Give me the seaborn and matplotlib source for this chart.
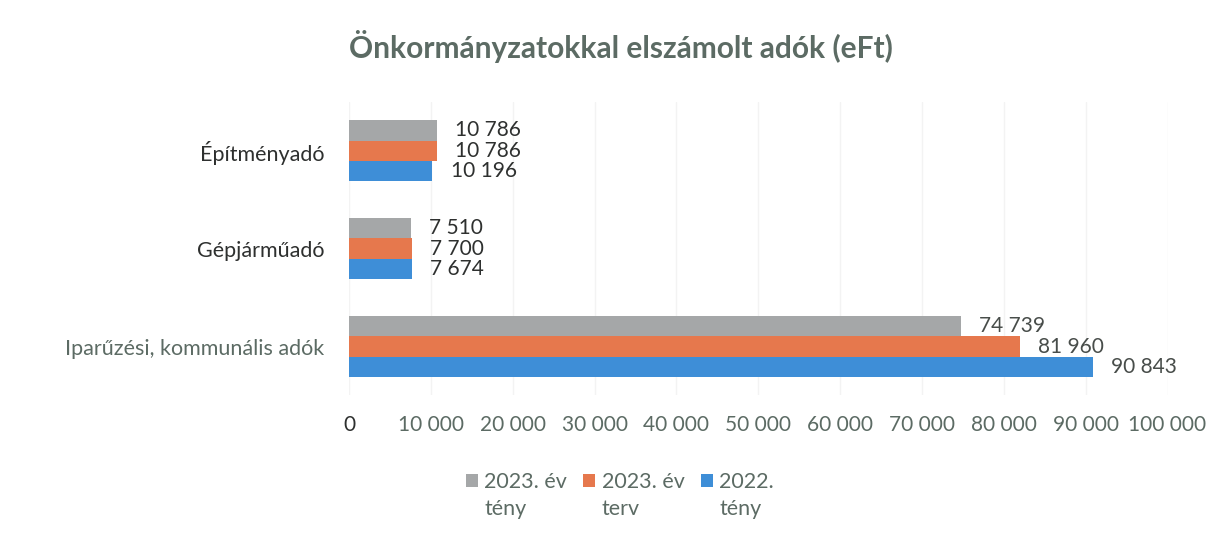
import matplotlib
matplotlib.use("Agg")
import matplotlib.pyplot as plt
import seaborn as sns
import pandas as pd
from matplotlib.ticker import FuncFormatter

categories = ["Építményadó", "Gépjárműadó", "Iparűzési, kommunális adók"]
series_names = ["2023. év tény", "2023. év terv", "2022. tény"]
legend_first = ["2023. év", "2023. év", "2022."]
legend_second = ["tény", "terv", "tény"]
tenyl_2023 = [10786, 7510, 74739]
terv_2023 = [10786, 7700, 81960]
teny_2022 = [10196, 7674, 90843]
x_ticks = [0, 10000, 20000, 30000, 40000, 50000, 60000, 70000, 80000, 90000, 100000]

colors = ["#A5A7A8", "#E6784D", "#3E8ED7"]
text_color = "#5C6B64"
dark = "#2E302F"

rows = []
for name, vals in zip(series_names, [tenyl_2023, terv_2023, teny_2022]):
    for c, v in zip(categories, vals):
        rows.append({"cat": c, "series": name, "value": v})
df = pd.DataFrame(rows)

sns.set_theme(style="white")
plt.rcParams["font.family"] = ["Lato", "DejaVu Sans"]

fig = plt.figure(figsize=(12.29, 5.44), dpi=100)
ax = fig.add_axes([0.284, 0.273, 0.666, 0.540])

sns.barplot(data=df, y="cat", x="value", hue="series", order=categories,
            hue_order=series_names, palette=colors, orient="h", width=0.62,
            gap=0, saturation=1, ax=ax, legend=True, errorbar=None, linewidth=0)

fmt = lambda v: f"{int(round(v)):,}".replace(",", " ")
for cont in ax.containers:
    texts = ax.bar_label(cont, labels=[fmt(b.get_width()) for b in cont], padding=13,
                         fontsize=15, color=dark)
    for t in texts[2:]:
        t.set_color("#484D4A")

ax.set_xlim(0, 100000)
ax.set_ylim(2.5, -0.5)
ax.set_xticks(x_ticks)
ax.xaxis.set_major_formatter(FuncFormatter(lambda v, p: fmt(v)))
ax.tick_params(axis="x", labelsize=15, labelcolor=text_color, pad=14, length=0)
ax.tick_params(axis="y", labelsize=15.5, labelcolor=dark, pad=18, length=0)
for lab in ax.get_yticklabels():
    if lab.get_text().startswith("Ipar"):
        lab.set_color(text_color)
ax.get_xticklabels()[0].set_color(dark)
ax.set_xlabel("")
ax.set_ylabel("")
ax.grid(axis="x", color="#F3F3F3", linewidth=1)
ax.set_axisbelow(True)
for s in ax.spines.values():
    s.set_visible(False)

handles, _ = ax.get_legend_handles_labels()
leg = ax.legend(handles, legend_first, loc="upper left", bbox_to_anchor=(0.143, -0.262),
                ncol=3, frameon=False, fontsize=15.5, labelcolor=text_color,
                handlelength=0.55, handleheight=0.55, handletextpad=0.3,
                columnspacing=0.75, borderpad=0, borderaxespad=0)

fig.suptitle("Önkormányzatokkal elszámolt adók (eFt)", x=0.505, y=0.945,
             fontsize=21.5, fontweight="bold", color=text_color)

fig.canvas.draw()
inv = fig.transFigure.inverted()
for t, second in zip(leg.get_texts(), legend_second):
    bb = t.get_window_extent()
    x0, y0 = inv.transform((bb.x0, bb.y0))
    fig.text(x0, y0 - 27 / 544, second, fontsize=15.5, color=text_color,
             ha="left", va="bottom")

fig.savefig("out.png", dpi=100, facecolor="white")
